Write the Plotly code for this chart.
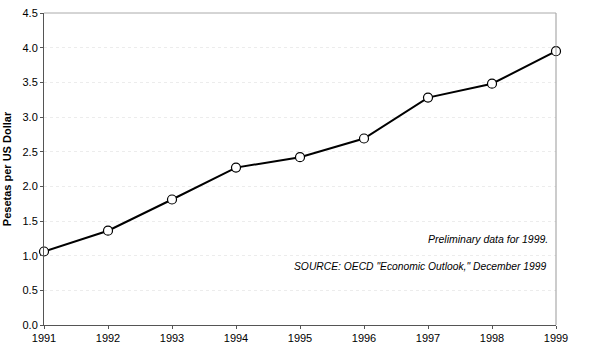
import plotly.graph_objects as go

years = [1991, 1992, 1993, 1994, 1995, 1996, 1997, 1998, 1999]
pesetas = [1.06, 1.36, 1.81, 2.27, 2.42, 2.69, 3.28, 3.48, 3.95]
y_ticks = [0.0, 0.5, 1.0, 1.5, 2.0, 2.5, 3.0, 3.5, 4.0, 4.5]
y_tick_labels = ["0.0", "0.5", "1.0", "1.5", "2.0", "2.5", "3.0", "3.5", "4.0", "4.5"]
note_text = "Preliminary data for 1999."
source_text = 'SOURCE: OECD "Economic Outlook," December 1999'

fig = go.Figure()
fig.add_trace(go.Scatter(
    x=years, y=pesetas, mode="lines+markers",
    line=dict(color="black", width=2),
    marker=dict(symbol="circle", size=9, color="white", line=dict(color="black", width=1.2)),
    cliponaxis=False, showlegend=False,
))

font = dict(family="Liberation Sans, Arial, sans-serif", color="black", size=11)

fig.update_layout(
    width=600, height=351,
    margin=dict(l=43, r=44, t=7, b=23),
    paper_bgcolor="white", plot_bgcolor="white",
    font=font,
    xaxis=dict(
        range=[1991, 1999], tickmode="array", tickvals=years,
        ticktext=[str(y) for y in years],
        showgrid=False, showline=True, linecolor="#555", linewidth=1,
        ticks="outside", ticklen=3, tickcolor="#555", mirror=False,
        zeroline=False, tickfont=dict(size=11),
    ),
    yaxis=dict(
        range=[0, 4.5], tickmode="array", tickvals=y_ticks, ticktext=y_tick_labels,
        showgrid=True, gridcolor="#ececec", griddash="dot", gridwidth=1,
        showline=True, linecolor="#555", linewidth=1,
        ticks="outside", ticklen=3, tickcolor="#555",
        zeroline=False, tickfont=dict(size=11),
        title=dict(text="<b>Pesetas per US Dollar</b>", font=dict(size=11), standoff=8),
    ),
    shapes=[
        dict(type="line", xref="paper", yref="paper", x0=1, x1=1, y0=0, y1=1,
             line=dict(color="#999", width=1)),
        dict(type="line", xref="paper", yref="paper", x0=0, x1=1, y0=1, y1=1,
             line=dict(color="#aaa", width=1)),
    ],
    annotations=[
        dict(text="<i>" + note_text + "</i>", xref="paper", yref="paper",
             x=0.988, y=0.277, xanchor="right", yanchor="middle", showarrow=False,
             font=dict(size=10.5)),
        dict(text="<i>" + source_text + "</i>", xref="paper", yref="paper",
             x=0.986, y=0.186, xanchor="right", yanchor="middle", showarrow=False,
             font=dict(size=10.3)),
    ],
)

fig.write_html("out.html")
